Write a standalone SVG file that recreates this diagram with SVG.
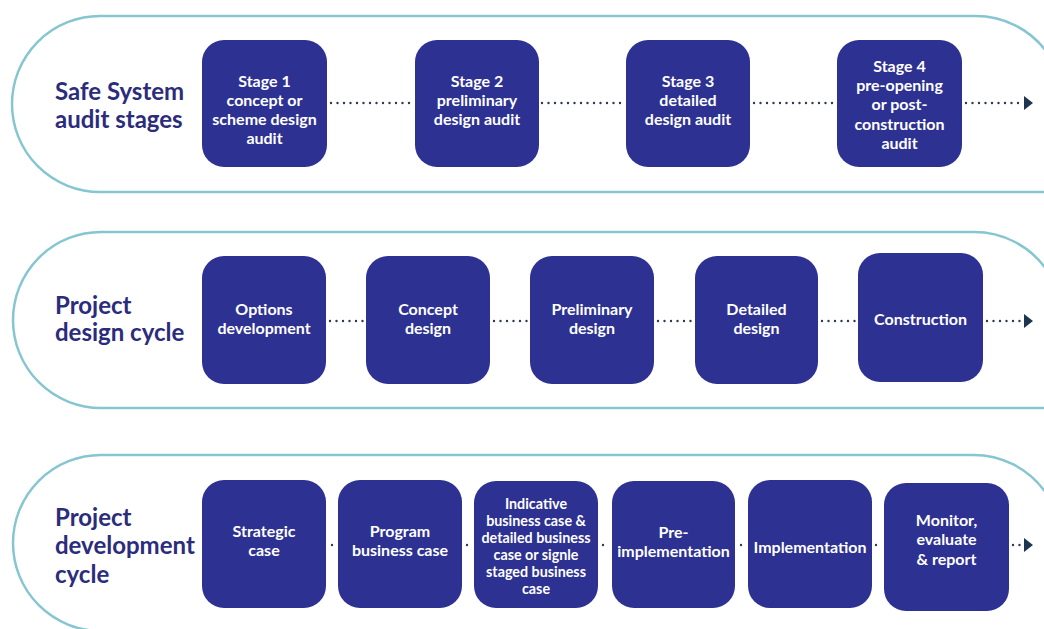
<svg xmlns="http://www.w3.org/2000/svg" width="1044" height="629" viewBox="0 0 1044 629">
<style>
.track{fill:none;stroke:#86c6d1;stroke-width:2.5}
.box{fill:#2d3192}
.bt{fill:#ffffff;font-family:Lato,"Open Sans",sans-serif;font-weight:700;font-size:16px;text-anchor:middle}
.bs{font-size:14.3px}
.lab{fill:#2b2c7c;font-family:Lato,"Open Sans",sans-serif;font-weight:700;font-size:24px}
.dot{fill:none;stroke:#2f3a4c;stroke-width:2.4;stroke-linecap:round;stroke-dasharray:0 6.5}
</style>
<defs>
<marker id="arr" markerWidth="10" markerHeight="14" refX="1" refY="7" orient="auto" markerUnits="userSpaceOnUse">
<path d="M1,0 L10,7 L1,14 Z" fill="#1d3550"/>
</marker>
</defs>
<g id="tracks">
<path class="track" d="M1046,192 L100,192 A88,88 0 0 1 100,16 L975,16 A88,88 0 0 1 1046,51"/>
<path class="track" d="M1046,408 L101,408 A88,88 0 0 1 101,232 L973,232 A88,88 0 0 1 1046,269"/>
<path class="track" d="M1046,631 L101,631 A88,88 0 0 1 101,455 L970,455 A88,88 0 0 1 1046,493"/>
</g>
<g id="labels">
<text class="lab" x="55" y="100">Safe System</text>
<text class="lab" x="55" y="128">audit stages</text>
<text class="lab" x="55" y="314">Project</text>
<text class="lab" x="55" y="341">design cycle</text>
<text class="lab" x="55" y="526">Project</text>
<text class="lab" x="55" y="554">development</text>
<text class="lab" x="55" y="583">cycle</text>
</g>
<g id="connectors">
<path class="dot" d="M331,103 L412,103"/>
<path class="dot" d="M542,103 L623,103"/>
<path class="dot" d="M754,103 L834,103"/>
<path class="dot" d="M966,103 L1024,103" marker-end="url(#arr)"/>
<path class="dot" d="M330,321 L363,321"/>
<path class="dot" d="M494,321 L527,321"/>
<path class="dot" d="M658,321 L692,321"/>
<path class="dot" d="M822,321 L855,321"/>
<path class="dot" d="M987,321 L1024,321" marker-end="url(#arr)"/>
<path class="dot" d="M332,545 L333,545"/>
<path class="dot" d="M467,545 L470,545"/>
<path class="dot" d="M603,545 L607,545"/>
<path class="dot" d="M741,545 L743,545"/>
<path class="dot" d="M876,545 L880,545"/>
<path class="dot" d="M1013,545 L1024,545" marker-end="url(#arr)"/>
</g>
<g id="n1"><rect class="box" x="202" y="40" width="125" height="127" rx="22"/>
<text class="bt" x="264.5" y="87">Stage 1</text><text class="bt" x="264.5" y="106">concept or</text><text class="bt" x="264.5" y="125">scheme design</text><text class="bt" x="264.5" y="144">audit</text></g>
<g id="n2"><rect class="box" x="415" y="40" width="124" height="127" rx="22"/>
<text class="bt" x="477" y="87">Stage 2</text><text class="bt" x="477" y="106">preliminary</text><text class="bt" x="477" y="125">design audit</text></g>
<g id="n3"><rect class="box" x="626" y="40" width="124" height="127" rx="22"/>
<text class="bt" x="688" y="87">Stage 3</text><text class="bt" x="688" y="106">detailed</text><text class="bt" x="688" y="125">design audit</text></g>
<g id="n4"><rect class="box" x="837" y="40" width="125" height="127" rx="22"/>
<text class="bt" x="899.5" y="72">Stage 4</text><text class="bt" x="899.5" y="91">pre-opening</text><text class="bt" x="899.5" y="110">or post-</text><text class="bt" x="899.5" y="130">construction</text><text class="bt" x="899.5" y="149">audit</text></g>
<g id="p1"><rect class="box" x="202" y="256" width="124" height="128" rx="22"/>
<text class="bt" x="264" y="315">Options</text><text class="bt" x="264" y="334">development</text></g>
<g id="p2"><rect class="box" x="366" y="256" width="124" height="128" rx="22"/>
<text class="bt" x="428" y="315">Concept</text><text class="bt" x="428" y="334">design</text></g>
<g id="p3"><rect class="box" x="530" y="256" width="124" height="128" rx="22"/>
<text class="bt" x="592" y="315">Preliminary</text><text class="bt" x="592" y="334">design</text></g>
<g id="p4"><rect class="box" x="695" y="256" width="123" height="128" rx="22"/>
<text class="bt" x="756.5" y="315">Detailed</text><text class="bt" x="756.5" y="334">design</text></g>
<g id="p5"><rect class="box" x="858" y="253" width="125" height="129" rx="22"/>
<text class="bt" x="920.5" y="325">Construction</text></g>
<g id="d1"><rect class="box" x="202" y="480" width="124" height="128" rx="22"/>
<text class="bt" x="264" y="537">Strategic</text><text class="bt" x="264" y="556">case</text></g>
<g id="d2"><rect class="box" x="338" y="480" width="124" height="128" rx="22"/>
<text class="bt" x="400" y="537">Program</text><text class="bt" x="400" y="556">business case</text></g>
<g id="d3"><rect class="box" x="474" y="481" width="124" height="127" rx="22"/>
<text class="bt bs" x="536" y="509">Indicative</text><text class="bt bs" x="536" y="526">business case &amp;</text><text class="bt bs" x="536" y="543">detailed business</text><text class="bt bs" x="536" y="560">case or signle</text><text class="bt bs" x="536" y="577">staged business</text><text class="bt bs" x="536" y="594">case</text></g>
<g id="d4"><rect class="box" x="612" y="481" width="123" height="127" rx="22"/>
<text class="bt" x="673.5" y="538">Pre-</text><text class="bt" x="673.5" y="557">implementation</text></g>
<g id="d5"><rect class="box" x="748" y="480" width="124" height="128" rx="22"/>
<text class="bt" x="810" y="553">Implementation</text></g>
<g id="d6"><rect class="box" x="884" y="483" width="125" height="128" rx="22"/>
<text class="bt" x="946.5" y="526">Monitor,</text><text class="bt" x="946.5" y="545">evaluate</text><text class="bt" x="946.5" y="565">&amp; report</text></g>
</svg>
